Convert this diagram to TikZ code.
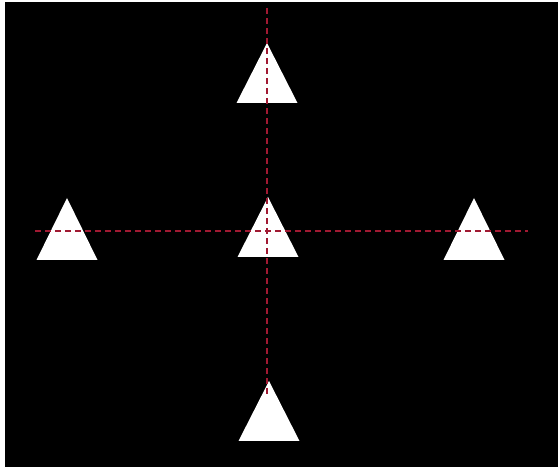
\documentclass[tikz,border=0pt]{standalone}
\definecolor{axisred}{RGB}{160,25,50}
\begin{document}
\begin{tikzpicture}[x=1pt,y=-1pt,
  tri/.style={fill=white},
  axis/.style={draw=axisred,line width=1.3pt,dash pattern=on 6pt off 4pt}]
\useasboundingbox (0,0) rectangle (558,470);
\fill[white] (0,0) rectangle (558,470);
\fill[black] (5,2) rectangle (558,467);
\newcommand{\mytri}[3]{\fill[tri] (#1,#2) -- (#1-30.5,#3) -- (#1+30.5,#3) -- cycle;}
\mytri{267}{43}{103}
\mytri{268}{197}{257}
\mytri{67}{198}{260}
\mytri{474}{198}{260}
\mytri{269}{381}{441}
\coordinate (vt) at (267,8);
\coordinate (vb) at (267,395);
\coordinate (hl) at (35,231);
\coordinate (hr) at (528,231);
\draw[axis] (vt) -- (vb);
\draw[axis] (hl) -- (hr);
\end{tikzpicture}
\end{document}
